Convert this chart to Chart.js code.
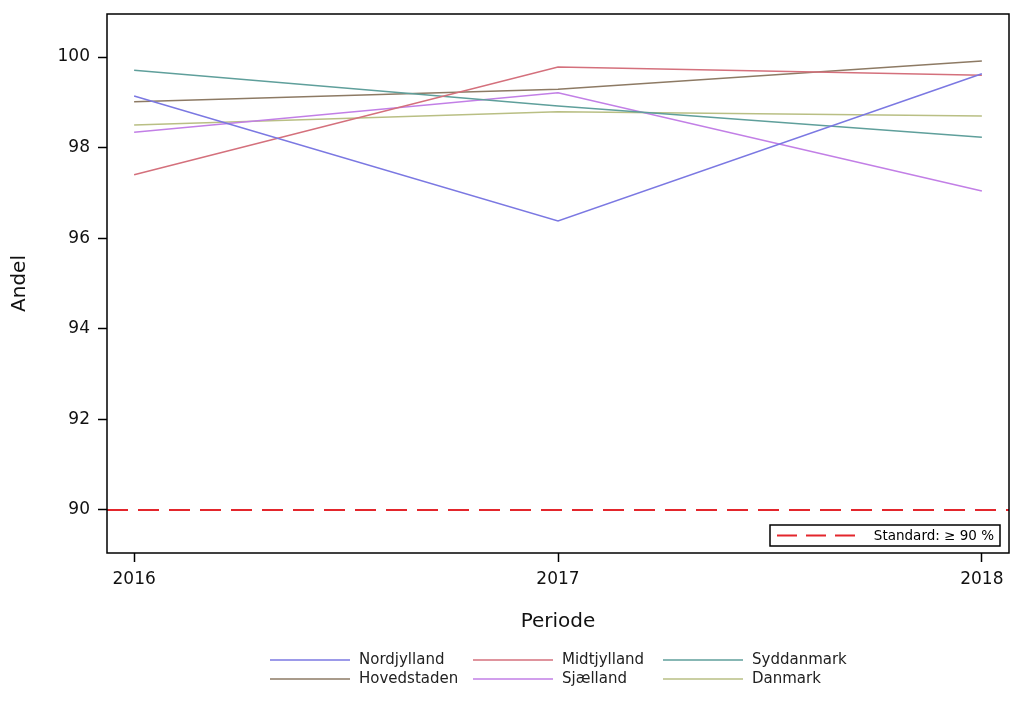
<!DOCTYPE html>
<html>
<head>
<meta charset="utf-8">
<script src="https://cdn.jsdelivr.net/npm/chart.js@4"></script>
<style>
  html, body { margin: 0; padding: 0; background: #fff; }
  #wrap { width: 1021px; height: 702px; position: relative; }
</style>
</head>
<body>
<div id="wrap"><canvas id="myLineChart" width="1021" height="702"></canvas></div>
<script>
// data
let years = [2016, 2017, 2018];
let nordjylland = [99.14, 96.38, 99.63];
let midtjylland = [97.40, 99.78, 99.60];
let syddanmark = [99.71, 98.92, 98.23];
let hovedstaden = [99.01, 99.29, 99.91];
let sjaelland = [98.34, 99.21, 97.04];
let danmark = [98.50, 98.79, 98.70];
let yTicks = [90, 92, 94, 96, 98, 100];
let standard = 90;
let standardLabel = "Standard: \u2265 90 %";

let font = "'DejaVu Sans', sans-serif";

function pts(vals) {
  return years.map((y, i) => ({ x: y, y: vals[i] }));
}

let series = [
  { label: "Nordjylland", data: nordjylland, color: "#7b78e2" },
  { label: "Midtjylland", data: midtjylland, color: "#d4707c" },
  { label: "Syddanmark", data: syddanmark, color: "#5f9f9b" },
  { label: "Hovedstaden", data: hovedstaden, color: "#8d7a64" },
  { label: "Sjælland", data: sjaelland, color: "#c27fe6" },
  { label: "Danmark", data: danmark, color: "#b9bf84" },
];

// frame, reference line, inner legend and bottom legend
let extras = {
  id: "extras",
  beforeDatasetsDraw(chart) {
    let ctx = chart.ctx;
    let a = chart.chartArea;
    let y = chart.scales.y.getPixelForValue(standard);
    ctx.save();
    ctx.strokeStyle = "#e3262c";
    ctx.lineWidth = 2;
    ctx.setLineDash([21, 10]);
    ctx.beginPath();
    ctx.moveTo(a.left, y);
    ctx.lineTo(a.right, y);
    ctx.stroke();
    ctx.restore();
  },
  afterDraw(chart) {
    let ctx = chart.ctx;
    let a = chart.chartArea;
    ctx.save();
    ctx.strokeStyle = "#000";
    ctx.lineWidth = 1.5;
    ctx.strokeRect(a.left, a.top, a.right - a.left, a.bottom - a.top);

    // inner legend box
    let bx = a.right - 239, by = a.bottom - 28, bw = 230, bh = 21;
    ctx.lineWidth = 1.5;
    ctx.strokeRect(bx, by, bw, bh);
    ctx.strokeStyle = "#e3262c";
    ctx.lineWidth = 2;
    ctx.setLineDash([20, 9]);
    ctx.beginPath();
    ctx.moveTo(bx + 7, by + bh / 2);
    ctx.lineTo(bx + 88, by + bh / 2);
    ctx.stroke();
    ctx.setLineDash([]);
    ctx.fillStyle = "#000";
    ctx.font = "13.5px " + font;
    ctx.textBaseline = "middle";
    ctx.textAlign = "right";
    ctx.fillText(standardLabel, bx + bw - 6, by + bh / 2 + 1);

    // bottom legend, 3 columns x 2 rows
    let cols = [270, 473, 663];
    let rows = [660, 679];
    ctx.font = "15px " + font;
    ctx.textAlign = "left";
    chart.data.datasets.forEach((ds, i) => {
      let cx = cols[i % 3];
      let cy = rows[Math.floor(i / 3)];
      ctx.strokeStyle = ds.borderColor;
      ctx.lineWidth = 1.5;
      ctx.beginPath();
      ctx.moveTo(cx, cy);
      ctx.lineTo(cx + 80, cy);
      ctx.stroke();
      ctx.fillStyle = "#222";
      ctx.fillText(ds.label, cx + 89, cy);
    });
    ctx.restore();
  },
};

let ctx = document.getElementById("myLineChart");
let myChart = new Chart(ctx, {
  type: "line",
  data: {
    datasets: series.map((s) => ({
      label: s.label,
      data: pts(s.data),
      borderColor: s.color,
      backgroundColor: s.color,
      borderWidth: 1.5,
      pointRadius: 0,
      tension: 0,
      fill: false,
    })),
  },
  options: {
    responsive: false,
    animation: false,
    layout: { padding: { top: 14, right: 12, bottom: 67, left: 0 } },
    plugins: {
      legend: { display: false },
      tooltip: { enabled: false },
    },
    scales: {
      x: {
        type: "linear",
        min: 2015.936,
        max: 2018.064,
        afterFit: (scale) => {
          scale.height = 82;
          scale.paddingLeft = 0;
          scale.paddingRight = 0;
        },
        afterBuildTicks: (scale) => { scale.ticks = years.map((v) => ({ value: v })); },
        grid: { drawOnChartArea: false, tickLength: 9, color: "#000", tickWidth: 1.5 },
        border: { display: false },
        ticks: {
          color: "#111",
          padding: 7,
          maxRotation: 0,
          font: { family: font, size: 17 },
          callback: (v) => String(v),
        },
        title: {
          display: true,
          text: "Periode",
          color: "#111",
          font: { family: font, size: 20 },
          padding: { top: 4, bottom: 1 },
        },
      },
      y: {
        min: 89.05,
        max: 100.95,
        afterFit: (scale) => {
          scale.width = 107;
          scale.paddingTop = 0;
          scale.paddingBottom = 0;
        },
        afterBuildTicks: (scale) => { scale.ticks = yTicks.map((v) => ({ value: v })); },
        grid: { drawOnChartArea: false, tickLength: 9, color: "#000", tickWidth: 1.5 },
        border: { display: false },
        ticks: {
          color: "#111",
          padding: 8,
          font: { family: font, size: 17 },
        },
        title: {
          display: true,
          text: "Andel",
          color: "#111",
          font: { family: font, size: 20 },
          padding: { top: 8, bottom: 4 },
        },
      },
    },
  },
  plugins: [extras],
});
</script>
</body>
</html>
